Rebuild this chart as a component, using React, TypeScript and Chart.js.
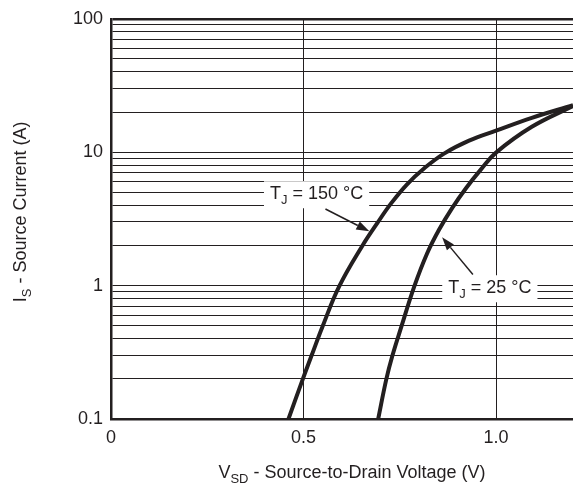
import React, { useEffect, useRef } from 'react';
import { Chart, registerables } from 'chart.js';

Chart.register(...registerables);

// ---- data ----
const vsd150 = [0.461, 0.497, 0.521, 0.549, 0.593, 0.653, 0.692, 0.728, 0.769, 0.813, 0.865, 0.93, 1.0, 1.093, 1.2];
const is150 = [0.1, 0.195, 0.299, 0.49, 0.99, 1.99, 2.95, 4.15, 5.75, 7.55, 9.76, 12.2, 14.5, 18.1, 22.5];
const vsd25 = [0.694, 0.715, 0.731, 0.754, 0.788, 0.821, 0.852, 0.886, 0.922, 0.961, 1.0, 1.093, 1.2];
const is25 = [0.1, 0.198, 0.299, 0.49, 0.99, 1.74, 2.62, 3.81, 5.37, 7.43, 9.93, 15.5, 22.2];

const xTickValues = [0, 0.5, 1.0];
const xTickLabels = ['0', '0.5', '1.0'];
const yDecades = [0.1, 1, 10, 100];
const yTickLabels = ['0.1', '1', '10', '100'];

const xTitle = [
  { t: 'V', sub: false },
  { t: 'SD', sub: true },
  { t: ' - Source-to-Drain Voltage (V)', sub: false },
];
const yTitle = [
  { t: 'I', sub: false },
  { t: 'S', sub: true },
  { t: ' - Source Current (A)', sub: false },
];

const curveLabels = [
  { parts: [{ t: 'T', sub: false }, { t: 'J', sub: true }, { t: ' = 150 °C', sub: false }], x: 0.534, y: 4.84 },
  { parts: [{ t: 'T', sub: false }, { t: 'J', sub: true }, { t: ' = 25 °C', sub: false }], x: 0.984, y: 0.955 },
];
const arrows = [
  { x1: 0.557, y1: 3.75, x2: 0.671, y2: 2.55 },
  { x1: 0.94, y1: 1.21, x2: 0.86, y2: 2.3 },
];

const INK = '#231f20';
const FONT_FAMILY = '"Liberation Sans", Arial, Helvetica, sans-serif';
const MAIN_FONT = `18px ${FONT_FAMILY}`;
const SUB_FONT = `13px ${FONT_FAMILY}`;

type Part = { t: string; sub: boolean };

function measureRich(ctx: CanvasRenderingContext2D, parts: Part[]) {
  let w = 0;
  parts.forEach((p) => {
    ctx.font = p.sub ? SUB_FONT : MAIN_FONT;
    w += ctx.measureText(p.t).width;
  });
  return w;
}

function drawRich(ctx: CanvasRenderingContext2D, parts: Part[], cx: number, cy: number) {
  const total = measureRich(ctx, parts);
  let x = cx - total / 2;
  ctx.textAlign = 'left';
  ctx.textBaseline = 'middle';
  ctx.fillStyle = INK;
  parts.forEach((p) => {
    ctx.font = p.sub ? SUB_FONT : MAIN_FONT;
    ctx.fillText(p.t, x, p.sub ? cy + 6 : cy);
    x += ctx.measureText(p.t).width;
  });
  return total;
}

const overlayPlugin = {
  id: 'overlay',
  afterDraw(chart: any) {
    const ctx: CanvasRenderingContext2D = chart.ctx;
    const xs = chart.scales.x;
    const ys = chart.scales.y;
    const area = chart.chartArea;
    ctx.save();

    // curve labels with white boxes
    curveLabels.forEach((l) => {
      const px = xs.getPixelForValue(l.x);
      const py = ys.getPixelForValue(l.y);
      const w = measureRich(ctx, l.parts);
      ctx.fillStyle = '#ffffff';
      ctx.fillRect(px - w / 2 - 6, py - 13, w + 12, 27);
      drawRich(ctx, l.parts, px, py);
    });

    // arrows
    arrows.forEach((a) => {
      const x1 = xs.getPixelForValue(a.x1);
      const y1 = ys.getPixelForValue(a.y1);
      const x2 = xs.getPixelForValue(a.x2);
      const y2 = ys.getPixelForValue(a.y2);
      const ang = Math.atan2(y2 - y1, x2 - x1);
      const hl = 13;
      const hw = 4.5;
      const bx = x2 - hl * Math.cos(ang);
      const by = y2 - hl * Math.sin(ang);
      ctx.strokeStyle = INK;
      ctx.lineWidth = 1.5;
      ctx.beginPath();
      ctx.moveTo(x1, y1);
      ctx.lineTo(bx, by);
      ctx.stroke();
      ctx.fillStyle = INK;
      ctx.beginPath();
      ctx.moveTo(x2, y2);
      ctx.lineTo(bx + hw * Math.sin(ang), by - hw * Math.cos(ang));
      ctx.lineTo(bx - hw * Math.sin(ang), by + hw * Math.cos(ang));
      ctx.closePath();
      ctx.fill();
    });

    // axis titles
    drawRich(ctx, xTitle, (area.left + area.right) / 2 + 10, 473);
    ctx.translate(21, (area.top + area.bottom) / 2 - 7);
    ctx.rotate(-Math.PI / 2);
    drawRich(ctx, yTitle, 0, 0);
    ctx.restore();
  },
};

export default function App() {
  const ref = useRef<HTMLCanvasElement | null>(null);

  useEffect(() => {
    if (!ref.current) return;
    const chart = new Chart(ref.current, {
      type: 'line',
      data: {
        datasets: [
          {
            label: 'TJ = 150 °C',
            data: vsd150.map((v, i) => ({ x: v, y: is150[i] })),
            borderColor: INK,
            borderWidth: 4,
            pointRadius: 0,
            tension: 0.4,
            fill: false,
          },
          {
            label: 'TJ = 25 °C',
            data: vsd25.map((v, i) => ({ x: v, y: is25[i] })),
            borderColor: INK,
            borderWidth: 4,
            pointRadius: 0,
            tension: 0.4,
            fill: false,
          },
        ],
      },
      options: {
        responsive: false,
        animation: false,
        layout: { padding: { top: 15, right: 0, left: 0, bottom: 0 } },
        plugins: {
          legend: { display: false },
          tooltip: { enabled: false },
          title: { display: false },
        },
        scales: {
          x: {
            type: 'linear',
            min: 0,
            max: 1.2,
            afterBuildTicks: (s: any) => {
              s.ticks = xTickValues.map((v) => ({ value: v }));
            },
            afterFit: (s: any) => {
              s.height = 68;
            },
            ticks: {
              padding: 8,
              color: INK,
              font: { family: FONT_FAMILY, size: 18 },
              maxRotation: 0,
              callback: (v: any) => {
                const i = xTickValues.indexOf(Number(v));
                return i >= 0 ? xTickLabels[i] : '';
              },
            },
            grid: { color: INK, lineWidth: 1, drawTicks: false },
            border: { color: INK, width: 2.5 },
          },
          y: {
            type: 'logarithmic',
            min: yDecades[0],
            max: yDecades[yDecades.length - 1],
            afterBuildTicks: (s: any) => {
              const t: any[] = [];
              for (let d = 0; d < yDecades.length - 1; d++) {
                for (let k = 1; k <= 9; k++) t.push({ value: yDecades[d] * k });
              }
              t.push({ value: yDecades[yDecades.length - 1] });
              s.ticks = t;
            },
            afterFit: (s: any) => {
              s.width = 111;
            },
            ticks: {
              padding: 8,
              color: INK,
              autoSkip: false,
              font: { family: FONT_FAMILY, size: 18 },
              callback: (v: any) => {
                const n = Number(v);
                const i = yDecades.findIndex((d) => Math.abs(d - n) / d < 1e-6);
                return i >= 0 ? yTickLabels[i] : '';
              },
            },
            grid: {
              color: INK,
              drawTicks: false,
              lineWidth: (c: any) => (c.tick && Math.abs(c.tick.value - 100) < 1e-6 ? 2.5 : 1),
            },
            border: { color: INK, width: 2.5 },
          },
        },
      } as any,
      plugins: [overlayPlugin],
    });
    return () => chart.destroy();
  }, []);

  return (
    <div style={{ position: 'absolute', left: 0, top: 0, width: 573, height: 487, background: '#fff' }}>
      <canvas ref={ref} width={573} height={487} />
    </div>
  );
}
